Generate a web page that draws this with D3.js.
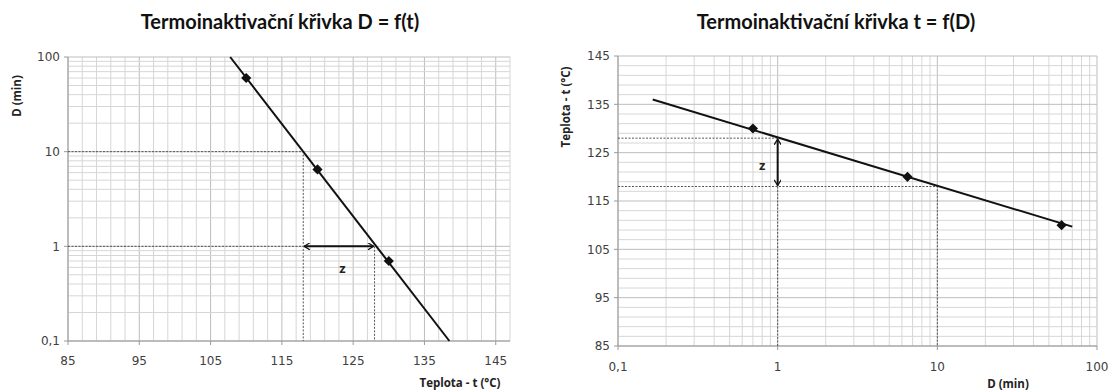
<!DOCTYPE html>
<html>
<head>
<meta charset="utf-8">
<script src="https://cdn.jsdelivr.net/npm/d3@7"></script>
<style>
  body { margin: 0; background: #fff; }
  svg { display: block; }
  .tick-label { font-family: "DejaVu Sans", Verdana, sans-serif; font-size: 12px; fill: #404040; }
  .axis-title { font-family: "Open Sans", sans-serif; font-weight: bold; font-size: 11.5px; fill: #222; }
  .chart-title { font-family: Lato, "Open Sans", sans-serif; font-weight: bold; font-size: 20px; fill: #111; }
</style>
</head>
<body>
<svg id="chart" width="1116" height="392"></svg>
<script>
// --- data: left panel D = f(t)
const leftTemps = [110, 120, 130];
const leftD = [60, 6.5, 0.7];
const leftTrend = [[107.75, 100], [138.5, 0.1]];   // t, D
const leftXTicks = [85, 95, 105, 115, 125, 135, 145];
const leftYTicks = [0.1, 1, 10, 100];

// --- data: right panel t = f(D)
const rightD = [0.7, 6.5, 60];
const rightTemps = [130, 120, 110];
const rightTrend = [[0.165, 136.0], [70, 109.7]];  // D, t
const rightXTicks = [0.1, 1, 10, 100];
const rightYTicks = [85, 95, 105, 115, 125, 135, 145];

// z construction: t at D=10 and D=1
const zTemps = [118, 128];
const zD = [10, 1];

const fmt = v => String(v).replace('.', ',');
const svg = d3.select('#chart');

const defs = svg.append('defs');
defs.append('marker')
    .attr('id', 'arrowhead')
    .attr('viewBox', '0 0 10 10')
    .attr('refX', 9).attr('refY', 5)
    .attr('markerWidth', 7).attr('markerHeight', 7)
    .attr('markerUnits', 'userSpaceOnUse')
    .attr('orient', 'auto-start-reverse')
  .append('path')
    .attr('d', 'M1,0 L9,5 L1,10')
    .attr('fill', 'none').attr('stroke', '#111').attr('stroke-width', 1.8);

function logMinors(lo, hi) {
    const out = [];
    for (let dec = lo; dec < hi; dec *= 10)
        for (let k = 1; k < 10; k++) out.push(+(dec * k).toPrecision(3));
    out.push(hi);
    return out;
}

const diamond = d3.symbol().type(d3.symbolSquare).size(52);

/**
 * Common drawing of one panel frame: grid, axes, labels
 */
function drawFrame(g, x, y, xGrid, yGrid, xMajor, yMajor, xTicks, yTicks) {
    const [x0, x1] = x.range();
    const [y0, y1] = y.range();
    g.append('rect').attr('x', x0).attr('y', y1).attr('width', x1 - x0).attr('height', y0 - y1).attr('fill', '#fff');
    g.append('g').selectAll('line').data(xGrid).join('line')
        .attr('x1', d => x(d)).attr('x2', d => x(d)).attr('y1', y0).attr('y2', y1)
        .attr('stroke', d => xMajor(d) ? '#bdbdbd' : '#d6d6d6').attr('stroke-width', 1);
    g.append('g').selectAll('line').data(yGrid).join('line')
        .attr('y1', d => y(d)).attr('y2', d => y(d)).attr('x1', x0).attr('x2', x1)
        .attr('stroke', d => yMajor(d) ? '#bdbdbd' : '#d6d6d6').attr('stroke-width', 1);
    // axes lines
    g.append('line').attr('x1', x0).attr('x2', x1).attr('y1', y0).attr('y2', y0).attr('stroke', '#9a9a9a');
    g.append('line').attr('x1', x0).attr('x2', x0).attr('y1', y0).attr('y2', y1).attr('stroke', '#9a9a9a');
    g.append('g').selectAll('line').data(xTicks).join('line')
        .attr('x1', d => x(d)).attr('x2', d => x(d)).attr('y1', y0).attr('y2', y0 + 4).attr('stroke', '#9a9a9a');
    g.append('g').selectAll('line').data(yTicks).join('line')
        .attr('y1', d => y(d)).attr('y2', d => y(d)).attr('x1', x0 - 4).attr('x2', x0).attr('stroke', '#9a9a9a');
    g.append('g').selectAll('text').data(yTicks).join('text')
        .attr('class', 'tick-label')
        .attr('x', x0 - 8).attr('y', d => y(d)).attr('dy', '0.35em')
        .attr('text-anchor', 'end').text(fmt);
}

function dashed(g, pts) {
    g.append('path').attr('d', d3.line()(pts))
        .attr('fill', 'none').attr('stroke', '#555').attr('stroke-width', 1)
        .attr('stroke-dasharray', '2,1.5');
}

function markers(g, xs, ys, x, y) {
    g.append('g').selectAll('path').data(xs).join('path')
        .attr('transform', (d, i) => `translate(${x(d)},${y(ys[i])}) rotate(45)`)
        .attr('d', diamond).attr('fill', '#111');
}

// ---------------- LEFT PANEL ----------------
{
    const x = d3.scaleLinear().domain([85, 147]).range([68, 510]);
    const y = d3.scaleLog().domain([0.1, 100]).range([341, 57]);
    const g = svg.append('g');
    drawFrame(g, x, y, d3.range(85, 148, 2), logMinors(0.1, 100),
        d => (d - 85) % 10 === 0, d => leftYTicks.includes(d), leftXTicks, leftYTicks);
    g.append('g').selectAll('text').data(leftXTicks).join('text')
        .attr('class', 'tick-label')
        .attr('x', d => x(d)).attr('y', 365).attr('text-anchor', 'middle').text(fmt);

    // dashed construction
    dashed(g, [[x(85), y(zD[0])], [x(zTemps[0]), y(zD[0])], [x(zTemps[0]), y(0.1)]]);
    dashed(g, [[x(85), y(zD[1])], [x(zTemps[0]), y(zD[1])]]);
    dashed(g, [[x(zTemps[1]), y(zD[1])], [x(zTemps[1]), y(0.1)]]);

    // trend line
    g.append('path').attr('d', d3.line().x(d => x(d[0])).y(d => y(d[1]))(leftTrend))
        .attr('fill', 'none').attr('stroke', '#111').attr('stroke-width', 2);
    markers(g, leftTemps, leftD, x, y);

    // z arrow
    g.append('line')
        .attr('x1', x(zTemps[0]) + 1).attr('x2', x(zTemps[1]) - 1)
        .attr('y1', y(zD[1])).attr('y2', y(zD[1]))
        .attr('stroke', '#111').attr('stroke-width', 2)
        .attr('marker-start', 'url(#arrowhead)').attr('marker-end', 'url(#arrowhead)');
    g.append('text').attr('class', 'axis-title').style('font-size', '13px')
        .attr('x', x(123.5)).attr('y', y(0.58)).attr('dy', '0.35em')
        .attr('text-anchor', 'middle').text('z');

    g.append('text').attr('class', 'axis-title')
        .attr('transform', 'translate(21,96) rotate(-90)')
        .attr('text-anchor', 'middle').text('D  (min)');
    g.append('text').attr('class', 'axis-title')
        .attr('x', 460).attr('y', 387).attr('text-anchor', 'middle').text('Teplota - t (°C)');
    g.append('text').attr('class', 'chart-title')
        .attr('x', 280).attr('y', 29).attr('text-anchor', 'middle').text('Termoinaktivační křivka D = f(t)');
}

// ---------------- RIGHT PANEL ----------------
{
    const x = d3.scaleLog().domain([0.1, 100]).range([618, 1097]);
    const y = d3.scaleLinear().domain([85, 145]).range([346, 56]);
    const g = svg.append('g');
    drawFrame(g, x, y, logMinors(0.1, 100), d3.range(85, 146, 2),
        d => rightXTicks.includes(d), d => (d - 85) % 10 === 0, rightXTicks, rightYTicks);
    g.append('g').selectAll('text').data(rightXTicks).join('text')
        .attr('class', 'tick-label')
        .attr('x', d => x(d)).attr('y', 371).attr('text-anchor', 'middle').text(fmt);

    dashed(g, [[x(0.1), y(zTemps[1])], [x(zD[1]), y(zTemps[1])]]);
    dashed(g, [[x(0.1), y(zTemps[0])], [x(zD[0]), y(zTemps[0])], [x(zD[0]), y(85)]]);
    dashed(g, [[x(zD[1]), y(zTemps[0])], [x(zD[1]), y(85)]]);

    g.append('path').attr('d', d3.line().x(d => x(d[0])).y(d => y(d[1]))(rightTrend))
        .attr('fill', 'none').attr('stroke', '#111').attr('stroke-width', 2);
    markers(g, rightD, rightTemps, x, y);

    g.append('line')
        .attr('x1', x(zD[1])).attr('x2', x(zD[1]))
        .attr('y1', y(zTemps[1]) + 1).attr('y2', y(zTemps[0]) - 1)
        .attr('stroke', '#111').attr('stroke-width', 2)
        .attr('marker-start', 'url(#arrowhead)').attr('marker-end', 'url(#arrowhead)');
    g.append('text').attr('class', 'axis-title').style('font-size', '13px')
        .attr('x', x(0.8)).attr('y', y(122.3)).attr('dy', '0.35em')
        .attr('text-anchor', 'middle').text('z');

    g.append('text').attr('class', 'axis-title')
        .attr('transform', 'translate(570,107) rotate(-90)')
        .attr('text-anchor', 'middle').text('Teplota - t (°C)');
    g.append('text').attr('class', 'axis-title')
        .attr('x', 1008).attr('y', 388).attr('text-anchor', 'middle').text('D  (min)');
    g.append('text').attr('class', 'chart-title')
        .attr('x', 836).attr('y', 29).attr('text-anchor', 'middle').text('Termoinaktivační křivka t = f(D)');
}
</script>
</body>
</html>
